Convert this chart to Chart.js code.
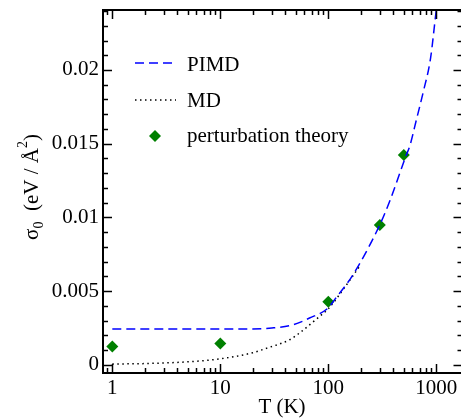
<!DOCTYPE html>
<html><head><meta charset="utf-8">
<script src="https://cdn.jsdelivr.net/npm/chart.js@4/dist/chart.umd.min.js"></script>
<style>html,body{margin:0;padding:0;background:#fff}#wrap{width:461px;height:418px}</style>
</head><body><div id="wrap"><canvas id="c" width="461" height="418"></canvas></div>
<script>
// ---- data ----
const T_PIMD = [1, 10, 20, 30, 47, 67, 100, 114, 169, 300, 375, 528, 566, 653, 752, 885, 1000, 1100];
const S_PIMD = [0.00242, 0.00242, 0.00243, 0.00249, 0.00271, 0.00317, 0.00386, 0.0044, 0.0061, 0.0095, 0.0112, 0.01424, 0.0148, 0.0166, 0.01842, 0.02081, 0.02407, 0.0262];
const T_MD = [1, 2, 5, 10, 20, 27, 44, 54, 83, 100, 150, 200];
const S_MD = [0.00005, 0.00008, 0.0002, 0.0004, 0.00082, 0.00113, 0.0017, 0.00215, 0.00328, 0.0038, 0.0055, 0.0068];
const T_PT = [1, 10, 100, 300, 500];
const S_PT = [0.00124, 0.00144, 0.00428, 0.00949, 0.01424];
const X_TICKS = [1, 10, 100, 1000];
const X_TICK_LABELS = ['1', '10', '100', '1000'];
const Y_TICKS = [0, 0.005, 0.01, 0.015, 0.02];
const Y_TICK_LABELS = ['0', '0.005', '0.01', '0.015', '0.02'];
const SERIES_NAMES = ['PIMD', 'MD', 'perturbation theory'];

const FONT = 'Liberation Serif';
const pts = (xs, ys) => xs.map((x, i) => ({x: x, y: ys[i]}));

const framePlugin = {
  id: 'frame',
  afterDraw(chart) {
    const ctx = chart.ctx, a = chart.chartArea;
    const xs = chart.scales.x, ys = chart.scales.y;
    const R = a.right + 1.5; // right frame edge sits just outside the picture
    ctx.save();
    ctx.strokeStyle = '#000';
    ctx.lineWidth = 1.5;
    const MAJ = 9, MIN = 5;
    const vtick = (px, len) => {
      ctx.beginPath(); ctx.moveTo(px, a.bottom); ctx.lineTo(px, a.bottom - len); ctx.stroke();
      ctx.beginPath(); ctx.moveTo(px, a.top); ctx.lineTo(px, a.top + len); ctx.stroke();
    };
    const htick = (py, len) => {
      ctx.beginPath(); ctx.moveTo(a.left, py); ctx.lineTo(a.left + len, py); ctx.stroke();
      ctx.beginPath(); ctx.moveTo(R, py); ctx.lineTo(R - len, py); ctx.stroke();
    };
    for (let d = 0.1; d <= 1000; d *= 10) {
      for (let k = 1; k <= 9; k++) {
        const v = k * d;
        if (v < xs.min || v > xs.max) continue;
        vtick(Math.round(xs.getPixelForValue(v)) + 0.5, k === 1 ? MAJ : MIN);
      }
    }
    for (let i = 0; i <= 24; i++) {
      const v = i * 0.001;
      if (v < ys.min || v > ys.max) continue;
      htick(Math.round(ys.getPixelForValue(v)) + 0.5, i % 5 === 0 ? MAJ : MIN);
    }
    ctx.lineWidth = 2;
    ctx.strokeRect(a.left, a.top, R - a.left, a.bottom - a.top);

    ctx.fillStyle = '#000';
    ctx.font = '21px "' + FONT + '"';
    ctx.textAlign = 'center';
    ctx.textBaseline = 'alphabetic';
    ctx.fillText('T (K)', 282, 413);

    const big = '21px "' + FONT + '"', small = '14px "' + FONT + '"';
    const parts = [
      {t: 'σ', f: big, dy: 0},
      {t: '0', f: small, dy: 5},
      {t: '  (eV / Å', f: big, dy: 0},
      {t: '2', f: small, dy: -11},
      {t: ')', f: big, dy: 0}
    ];
    let total = 0;
    parts.forEach(p => { ctx.font = p.f; p.w = ctx.measureText(p.t).width; total += p.w; });
    ctx.translate(38, 187 + total / 2);
    ctx.rotate(-Math.PI / 2);
    ctx.textAlign = 'left';
    let xx = 0;
    parts.forEach(p => { ctx.font = p.f; ctx.fillText(p.t, xx, p.dy); xx += p.w; });
    ctx.setTransform(1, 0, 0, 1, 0, 0);

    const ds = chart.data.datasets;
    ctx.font = '21px "' + FONT + '"';
    ctx.textAlign = 'left';
    const rows = [{y: 63, b: 71}, {y: 100, b: 107}, {y: 136, b: 142}];
    ds.forEach((d, i) => {
      const r = rows[i];
      if (d.showLine) {
        ctx.save();
        ctx.strokeStyle = d.borderColor; ctx.lineWidth = d.borderWidth;
        ctx.setLineDash(d.borderDash);
        ctx.beginPath(); ctx.moveTo(135, r.y); ctx.lineTo(176, r.y); ctx.stroke();
        ctx.restore();
      } else {
        const s = d.pointRadius;
        ctx.fillStyle = d.backgroundColor;
        ctx.beginPath(); ctx.moveTo(155, r.y - s); ctx.lineTo(155 + s, r.y); ctx.lineTo(155, r.y + s); ctx.lineTo(155 - s, r.y); ctx.closePath(); ctx.fill();
      }
      ctx.fillStyle = '#000';
      ctx.fillText(d.label, 187, r.b);
    });
    ctx.restore();
  }
};

new Chart(document.getElementById('c'), {
  type: 'scatter',
  data: {
    datasets: [
      {label: SERIES_NAMES[0], data: pts(T_PIMD, S_PIMD), showLine: true, borderColor: '#0000ff', borderWidth: 1.5,
       borderDash: [9, 5], pointRadius: 0, cubicInterpolationMode: 'monotone', fill: false},
      {label: SERIES_NAMES[1], data: pts(T_MD, S_MD), showLine: true, borderColor: '#000000', borderWidth: 1.5,
       borderDash: [1.5, 3.5], pointRadius: 0, cubicInterpolationMode: 'monotone', fill: false},
      {label: SERIES_NAMES[2], data: pts(T_PT, S_PT), showLine: false, pointStyle: 'rectRot', pointRadius: 6,
       backgroundColor: '#008000', borderColor: '#008000', borderWidth: 0}
    ]
  },
  options: {
    responsive: false, animation: false, events: [],
    layout: {autoPadding: false, padding: {top: 10, right: 0, left: 0, bottom: 0}},
    plugins: {legend: {display: false}, tooltip: {enabled: false}},
    scales: {
      x: {
        type: 'logarithmic', min: 0.82, max: 1693,
        afterBuildTicks: s => { s.ticks = X_TICKS.map(v => ({value: v})); },
        afterFit: s => { s.height = 45; s.paddingLeft = 0; s.paddingRight = 0; },
        ticks: {color: '#000', font: {family: FONT, size: 21}, padding: 3, maxRotation: 0, autoSkip: false,
                callback: (v, i) => X_TICK_LABELS[i]},
        grid: {display: false, drawTicks: false}, border: {display: false}
      },
      y: {
        type: 'linear', min: -0.00056, max: 0.02407,
        afterBuildTicks: s => { s.ticks = Y_TICKS.map(v => ({value: v})); },
        afterFit: s => { s.width = 103; s.paddingTop = 0; s.paddingBottom = 0; },
        ticks: {color: '#000', font: {family: FONT, size: 21}, padding: 4, autoSkip: false,
                callback: (v, i) => Y_TICK_LABELS[i]},
        grid: {display: false, drawTicks: false}, border: {display: false}
      }
    }
  },
  plugins: [framePlugin]
});
</script></body></html>
